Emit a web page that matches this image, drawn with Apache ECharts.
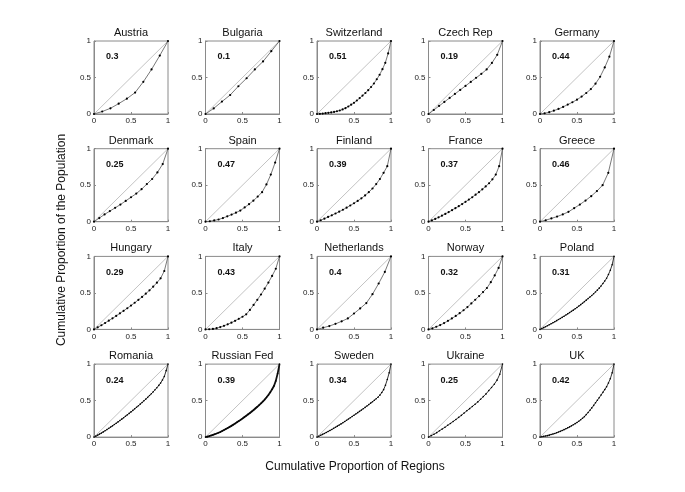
<!DOCTYPE html>
<html>
<head>
<meta charset="utf-8">
<script src="https://cdn.jsdelivr.net/npm/echarts@6/dist/echarts.min.js"></script>
<style>html,body{margin:0;padding:0;background:#fff;}#chart{width:685px;height:492px;}</style>
</head>
<body>
<div id="chart"></div>
<script>
const countries = ['Austria','Bulgaria','Switzerland','Czech Rep','Germany','Denmark','Spain','Finland','France','Greece','Hungary','Italy','Netherlands','Norway','Poland','Romania','Russian Fed','Sweden','Ukraine','UK'];
const gini = [0.3,0.1,0.51,0.19,0.44,0.25,0.47,0.39,0.37,0.46,0.29,0.43,0.4,0.32,0.31,0.24,0.39,0.34,0.25,0.42];
const tickLabels = ['0','0.5','1'];
const equality = [0, 1];

// cumulative proportion of population, regions sorted ascending (x = i / n)
const austria = [0,0.034,0.078,0.142,0.210,0.294,0.441,0.611,0.801,1];
const bulgaria = [0,0.077,0.17,0.26,0.38,0.49,0.61,0.72,0.86,1];
const switzerland = [0,0.002,0.006,0.011,0.016,0.022,0.029,0.038,0.048,0.062,0.080,0.103,0.128,0.153,0.185,0.218,0.252,0.288,0.327,0.370,0.418,0.476,0.538,0.614,0.701,0.830,1];
const czechRep = [0,0.055,0.11,0.165,0.22,0.275,0.33,0.385,0.44,0.495,0.55,0.61,0.70,0.81,1];
const germany = [0,0.01,0.025,0.046,0.069,0.097,0.129,0.161,0.196,0.239,0.288,0.341,0.415,0.51,0.638,0.785,1];
const denmark = [0,0.05,0.10,0.145,0.19,0.235,0.285,0.335,0.385,0.445,0.515,0.585,0.675,0.79,1];
const spain = [0,0.006,0.018,0.03,0.05,0.073,0.097,0.124,0.153,0.195,0.24,0.288,0.344,0.405,0.51,0.645,0.81,1];
const finland = [0,0.02,0.042,0.065,0.088,0.112,0.138,0.164,0.192,0.222,0.253,0.285,0.32,0.36,0.405,0.455,0.515,0.585,0.67,0.76,1];
const france = [0,0.018,0.038,0.06,0.083,0.107,0.132,0.158,0.185,0.213,0.242,0.272,0.303,0.335,0.37,0.405,0.443,0.483,0.527,0.58,0.645,0.76,1];
const greece = [0,0.02,0.045,0.07,0.10,0.135,0.185,0.235,0.29,0.35,0.42,0.50,0.67,1];
const hungary = [0,0.028,0.057,0.088,0.12,0.152,0.185,0.22,0.255,0.29,0.327,0.365,0.405,0.445,0.49,0.535,0.585,0.64,0.70,0.80,1];
const italy = [0,0.002,0.007,0.017,0.032,0.049,0.07,0.092,0.118,0.145,0.173,0.206,0.267,0.335,0.405,0.478,0.558,0.642,0.733,0.831,1];
const netherlands = [0,0.023,0.046,0.076,0.111,0.150,0.218,0.287,0.361,0.482,0.629,0.788,1];
const norway = [0,0.015,0.036,0.059,0.086,0.117,0.150,0.184,0.222,0.262,0.306,0.356,0.406,0.457,0.511,0.567,0.647,0.739,0.842,1];
const poland = [0,0.012,0.024,0.037,0.05,0.063,0.077,0.091,0.105,0.12,0.135,0.15,0.165,0.181,0.197,0.213,0.23,0.247,0.264,0.282,0.30,0.319,0.339,0.359,0.38,0.401,0.422,0.443,0.465,0.489,0.513,0.538,0.565,0.595,0.628,0.663,0.70,0.752,0.81,0.885,1];
const romania = [0,0.013,0.027,0.041,0.055,0.071,0.087,0.103,0.12,0.137,0.154,0.172,0.19,0.208,0.227,0.246,0.265,0.285,0.305,0.325,0.345,0.366,0.387,0.408,0.43,0.452,0.474,0.497,0.52,0.544,0.569,0.594,0.62,0.648,0.677,0.708,0.74,0.783,0.83,0.91,1];
const russianFed = [0,0.006,0.013,0.021,0.03,0.039,0.049,0.059,0.07,0.083,0.097,0.111,0.125,0.139,0.154,0.169,0.185,0.202,0.219,0.237,0.255,0.273,0.292,0.311,0.33,0.351,0.372,0.393,0.415,0.439,0.463,0.488,0.515,0.545,0.577,0.613,0.655,0.70,0.77,0.87,1];
const sweden = [0,0.012,0.025,0.037,0.05,0.064,0.077,0.091,0.105,0.12,0.135,0.15,0.165,0.181,0.197,0.213,0.23,0.247,0.265,0.282,0.30,0.317,0.335,0.352,0.37,0.388,0.407,0.426,0.445,0.465,0.485,0.505,0.525,0.545,0.575,0.61,0.65,0.71,0.79,0.88,1];
const ukraine = [0,0.02,0.04,0.061,0.087,0.111,0.134,0.162,0.187,0.214,0.242,0.27,0.298,0.33,0.36,0.39,0.42,0.451,0.482,0.518,0.555,0.592,0.637,0.68,0.725,0.78,0.86,1];
const uk = [0,0.005,0.01,0.015,0.02,0.027,0.035,0.042,0.05,0.059,0.069,0.079,0.09,0.102,0.114,0.127,0.14,0.154,0.169,0.184,0.20,0.218,0.238,0.258,0.28,0.308,0.337,0.368,0.40,0.434,0.47,0.505,0.54,0.576,0.613,0.651,0.69,0.742,0.80,0.88,1];

const curves = [austria,bulgaria,switzerland,czechRep,germany,denmark,spain,finland,france,greece,hungary,italy,netherlands,norway,poland,romania,russianFed,sweden,ukraine,uk];

const FONT = '"Liberation Sans", Arial, sans-serif';
const left0 = 94, colStep = 111.5, top0 = 41, rowStep = 107.7, gw = 74, gh = 73;

const grids = [], xAxes = [], yAxes = [], series = [], graphics = [];
const axisCommon = {
  type: 'value', min: 0, max: 1, interval: 0.5,
  axisLine: { show: true, lineStyle: { color: '#8a8a8a', width: 1 } },
  axisTick: { show: true, inside: true, length: 2, lineStyle: { color: '#8a8a8a' } },
  splitLine: { show: false },
  axisLabel: { fontSize: 8, color: '#222', fontFamily: FONT, margin: 3,
    formatter: v => tickLabels[Math.round(v * 2)] }
};

countries.forEach((name, i) => {
  const r = Math.floor(i / 5), c = i % 5;
  const L = left0 + c * colStep, T = top0 + r * rowStep;
  grids.push({ left: L, top: T, width: gw, height: gh, show: true, borderColor: '#8a8a8a', borderWidth: 1 });
  xAxes.push(Object.assign({ gridIndex: i }, axisCommon));
  yAxes.push(Object.assign({ gridIndex: i }, axisCommon));
  series.push({
    type: 'line', xAxisIndex: i, yAxisIndex: i, silent: true,
    data: equality.map(v => [v, v]), symbol: 'none',
    lineStyle: { color: '#b4b4b4', width: 0.8 }, z: 1
  });
  const ys = curves[i];
  const n = ys.length - 1;
  const dense = i >= 14;
  const isRus = name === 'Russian Fed';
  series.push({
    type: 'line', xAxisIndex: i, yAxisIndex: i, silent: true,
    data: ys.map((y, k) => [k / n, y]),
    symbol: 'circle', symbolSize: dense ? 1.6 : 2.2, showSymbol: true,
    itemStyle: { color: '#000' },
    lineStyle: { color: isRus ? '#111' : (dense ? '#333' : '#555'), width: isRus ? 1.8 : (dense ? 1 : 0.8) },
    z: 2
  });
  graphics.push({ type: 'text', x: L + gw / 2, y: T - 8,
    style: { text: name, fontSize: 11, fontFamily: FONT, fill: '#111', align: 'center', verticalAlign: 'middle' } });
  graphics.push({ type: 'text', x: L + 12, y: T + 16,
    style: { text: String(gini[i]), fontSize: 9, fontWeight: 'bold', fontFamily: FONT, fill: '#111', align: 'left', verticalAlign: 'middle' } });
});

graphics.push({ type: 'text', x: 62, y: 240, rotation: Math.PI / 2,
  style: { text: 'Cumulative Proportion of the Population', fontSize: 12, fontFamily: FONT, fill: '#111', align: 'center', verticalAlign: 'middle' } });
graphics.push({ type: 'text', x: 355, y: 467,
  style: { text: 'Cumulative Proportion of Regions', fontSize: 12, fontFamily: FONT, fill: '#111', align: 'center', verticalAlign: 'middle' } });

const chart = echarts.init(document.getElementById('chart'), null, { renderer: 'canvas' });
chart.setOption({
  animation: false,
  backgroundColor: '#fff',
  grid: grids, xAxis: xAxes, yAxis: yAxes, series: series, graphic: graphics
});
</script>
</body>
</html>
